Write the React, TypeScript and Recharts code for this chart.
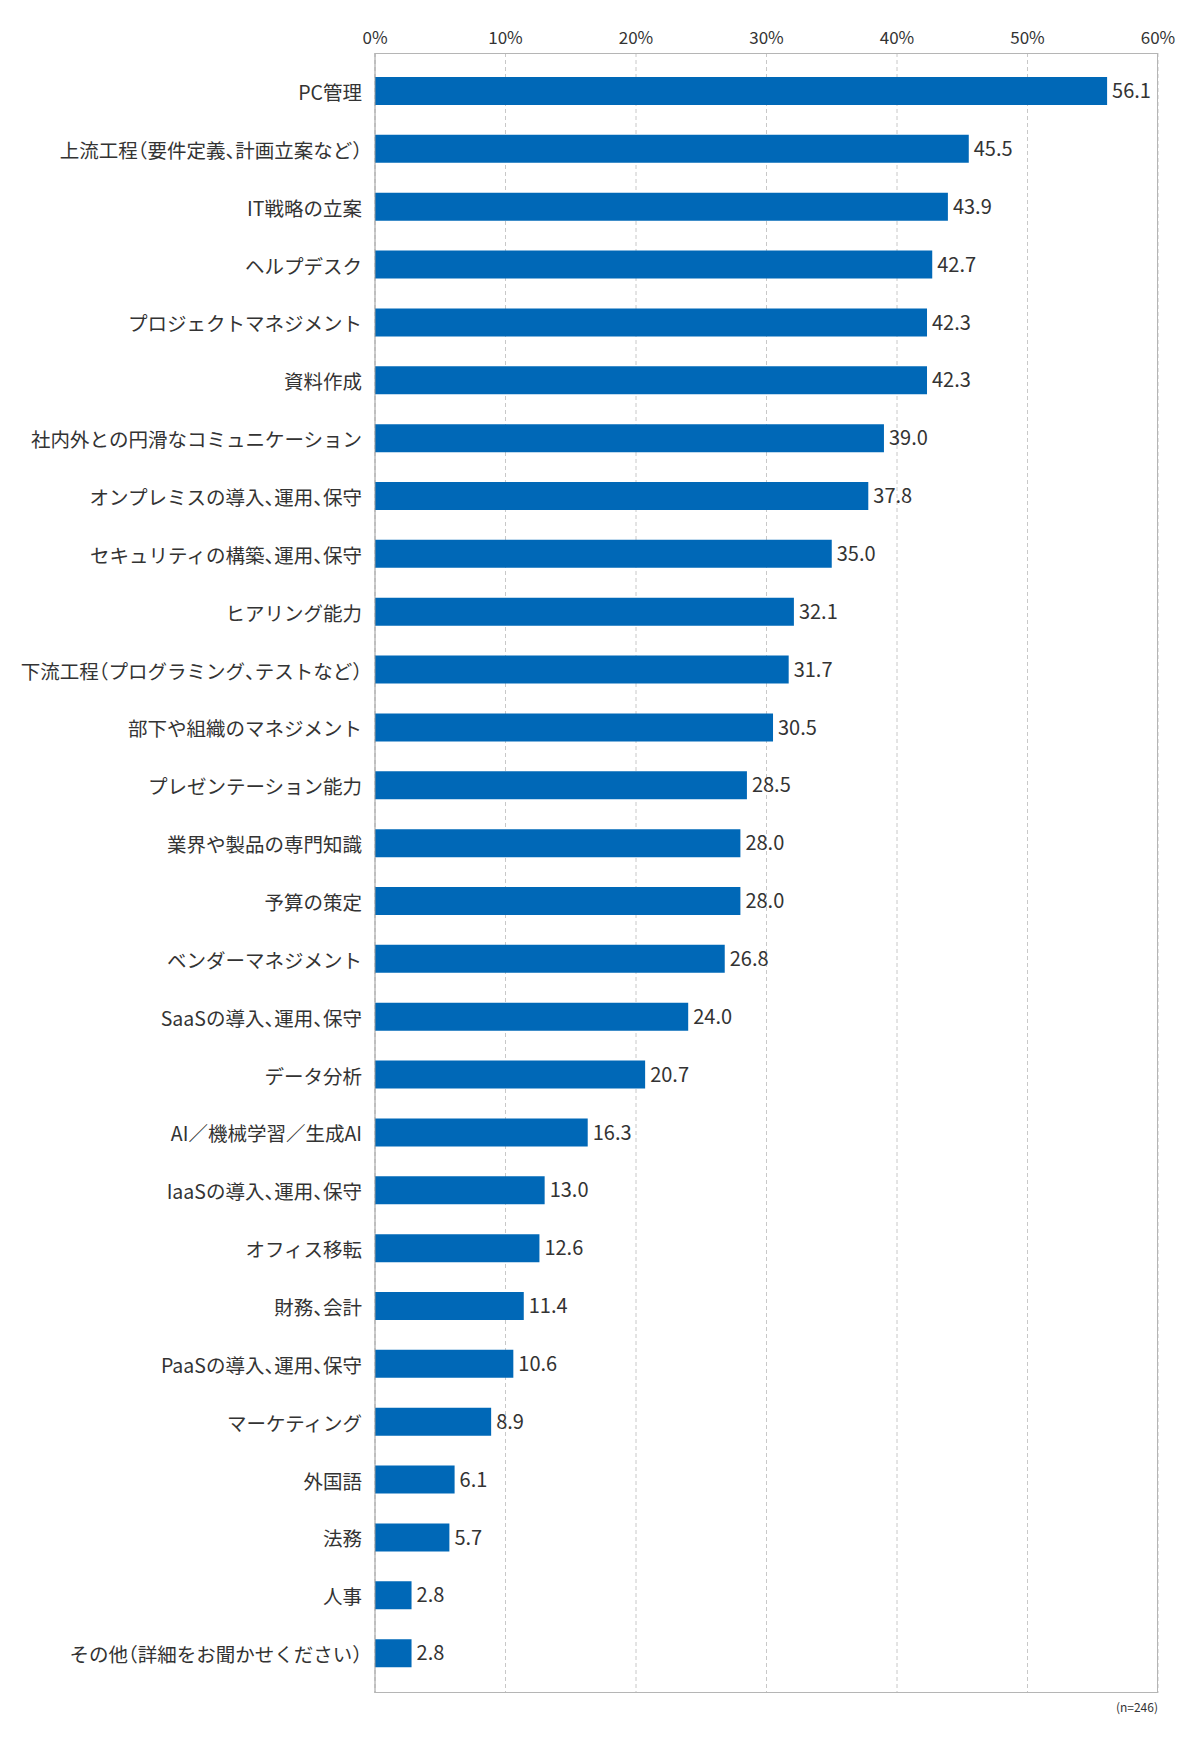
import { BarChart, Bar, XAxis, YAxis, CartesianGrid, LabelList } from "recharts";

const categories = [
  "PC管理",
  "上流工程（要件定義、計画立案など）",
  "IT戦略の立案",
  "ヘルプデスク",
  "プロジェクトマネジメント",
  "資料作成",
  "社内外との円滑なコミュニケーション",
  "オンプレミスの導入、運用、保守",
  "セキュリティの構築、運用、保守",
  "ヒアリング能力",
  "下流工程（プログラミング、テストなど）",
  "部下や組織のマネジメント",
  "プレゼンテーション能力",
  "業界や製品の専門知識",
  "予算の策定",
  "ベンダーマネジメント",
  "SaaSの導入、運用、保守",
  "データ分析",
  "AI／機械学習／生成AI",
  "IaaSの導入、運用、保守",
  "オフィス移転",
  "財務、会計",
  "PaaSの導入、運用、保守",
  "マーケティング",
  "外国語",
  "法務",
  "人事",
  "その他（詳細をお聞かせください）",
];

const values = [
  56.1, 45.5, 43.9, 42.7, 42.3, 42.3, 39.0, 37.8, 35.0, 32.1, 31.7, 30.5, 28.5,
  28.0, 28.0, 26.8, 24.0, 20.7, 16.3, 13.0, 12.6, 11.4, 10.6, 8.9, 6.1, 5.7,
  2.8, 2.8,
];

const xTicks = [0, 10, 20, 30, 40, 50, 60];
const sampleNote = "(n=246)";

const FONT = '"Noto Sans CJK JP", "Noto Sans", sans-serif';
const TEXT = "#333333";
const PUNCT = new Set(["（", "）", "、"]);

// punctuation is set half width in the original; use the font's halt glyphs
function splitRuns(label: string) {
  const runs: { text: string; half: boolean }[] = [];
  for (const c of Array.from(label)) {
    const half = PUNCT.has(c);
    const last = runs[runs.length - 1];
    if (last && last.half === half) last.text += c;
    else runs.push({ text: c, half });
  }
  return runs;
}

function CategoryTick(props: any) {
  const { x, y, payload } = props;
  const runs = splitRuns(String(payload.value));
  return (
    <text
      x={x}
      y={y}
      textAnchor="end"
      dominantBaseline="central"
      fill={TEXT}
      fontSize={19.5}
      fontFamily={FONT}
    >
      {runs.map((r, i) => (
        <tspan
          key={i}
          style={r.half ? { fontFeatureSettings: '"halt"' } : undefined}
        >
          {r.text}
        </tspan>
      ))}
    </text>
  );
}

export default function App() {
  const data = categories.map((name, i) => ({ name, value: values[i] }));

  return (
    <div style={{ position: "relative", width: 1184, height: 1734, fontFamily: FONT }}>
      <BarChart
        width={1184}
        height={1730}
        data={data}
        layout="vertical"
        margin={{ top: 0, right: 34, bottom: 45, left: 0 }}
        barSize={28}
      >
        <CartesianGrid
          horizontal={false}
          stroke="#c8c8c8"
          strokeDasharray="4 3"
        />
        <XAxis
          type="number"
          orientation="top"
          domain={[0, 60]}
          ticks={xTicks}
          tickFormatter={(v: number) => `${v}%`}
          height={45}
          axisLine={false}
          tickLine={false}
          tickSize={0}
          tickMargin={9}
          tick={{ fill: TEXT, fontSize: 17, fontFamily: FONT }}
        />
        <YAxis
          type="category"
          dataKey="name"
          width={367}
          axisLine={{ stroke: "#999999" }}
          tickLine={false}
          tickSize={0}
          tickMargin={13}
          padding={{ top: 9, bottom: 11 }}
          interval={0}
          tick={<CategoryTick />}
        />
        <Bar dataKey="value" fill="#0068b7" isAnimationActive={false}>
          <LabelList
            dataKey="value"
            position="right"
            offset={5}
            formatter={(v: number) => Number(v).toFixed(1)}
            style={{ fill: TEXT, fontSize: 20, fontFamily: FONT }}
          />
        </Bar>
      </BarChart>
      {/* plot frame */}
      <div
        style={{
          position: "absolute",
          left: 367,
          top: 45,
          width: 783,
          height: 1640,
          boxSizing: "border-box",
          border: "1px solid #b5b5b5",
          borderLeft: "none",
          pointerEvents: "none",
        }}
      />
      <div
        style={{
          position: "absolute",
          right: 34,
          top: 1690,
          fontSize: 12,
          color: TEXT,
        }}
      >
        {sampleNote}
      </div>
    </div>
  );
}
